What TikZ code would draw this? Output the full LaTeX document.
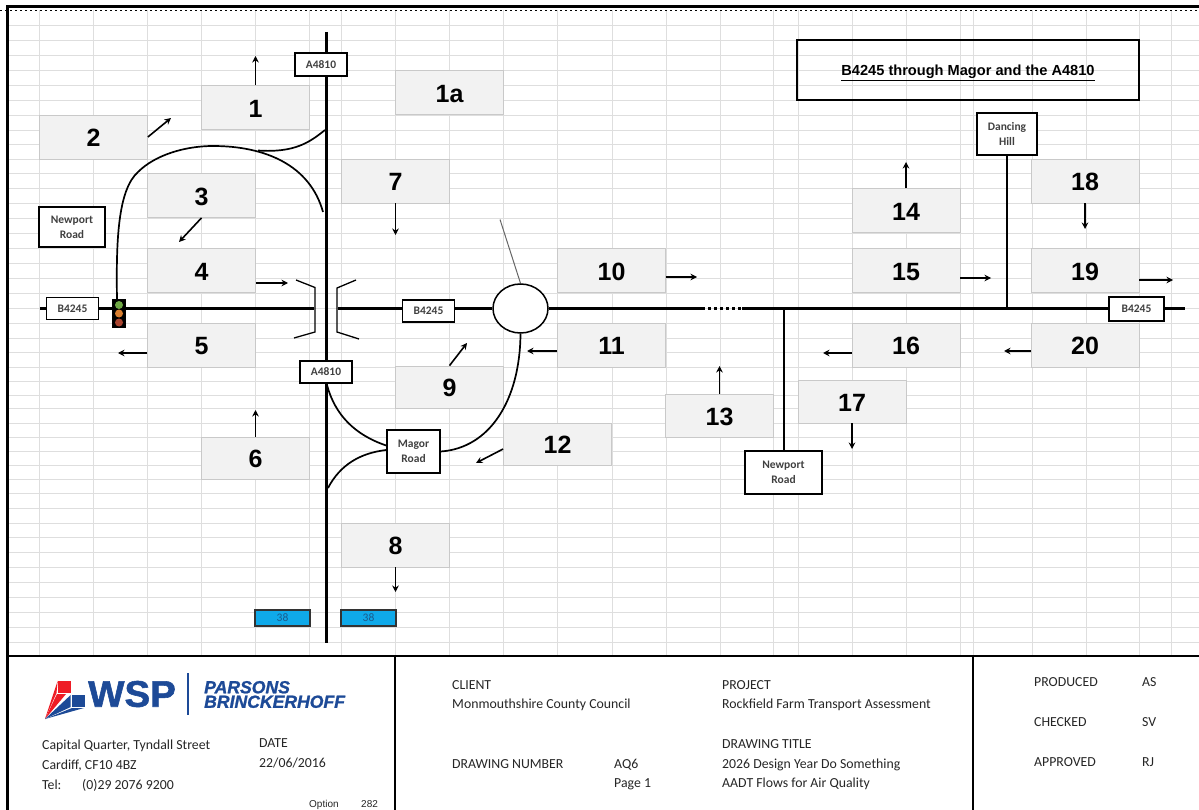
\documentclass[tikz,border=0pt]{standalone}
\usepackage{fontspec}
\setmainfont{Carlito}
\newfontfamily\arialfont{Liberation Sans}
\newfontfamily\logofont{Liberation Sans}[BoldFeatures={FakeBold=1.5,FakeStretch=1.04},BoldItalicFeatures={FakeBold=1.2}]
\usetikzlibrary{arrows.meta, positioning, shapes.geometric}
\definecolor{gridline}{HTML}{DEDEDE}
\definecolor{boxfill}{HTML}{F2F2F2}
\definecolor{boxedge}{HTML}{C9C9C9}
\definecolor{labeltext}{HTML}{404040}
\definecolor{barblue}{HTML}{0FA9E9}
\definecolor{bartext}{HTML}{1A5A8C}
\definecolor{wspblue}{HTML}{1D4A97}
\definecolor{wspred}{HTML}{EE1C25}
\definecolor{signalgreen}{HTML}{6FA845}
\definecolor{signalamber}{HTML}{D97F30}
\definecolor{signalred}{HTML}{A9442F}

\begin{document}
\begin{tikzpicture}[
    x=1pt, y=-1pt,
    flowbox/.style={draw=boxedge, fill=boxfill, line width=0.8pt,
      minimum width=108pt, minimum height=44pt, inner sep=0pt,
      text height=19.5pt, text depth=0pt,
      font=\arialfont\fontsize{25}{25}\selectfont\bfseries},
    placebox/.style={draw=black, fill=white, line width=1.5pt, inner sep=0pt,
      align=center, text=labeltext,
      font=\fontsize{11.5}{15}\selectfont\bfseries},
    roadlabel/.style={placebox, minimum width=52pt, minimum height=22pt},
    countbar/.style={draw=black!80, fill=barblue, line width=1.2pt, inner sep=0pt,
      minimum width=55pt, minimum height=16pt, text=bartext,
      font=\fontsize{11.5}{12}\selectfont},
    road/.style={line width=3pt, black},
    sideroad/.style={line width=2pt, black},
    slip/.style={line width=1.7pt, black},
    flare/.style={line width=1.3pt, black},
    flowarrow/.style={-{Stealth[length=6.5pt, width=6.5pt]}, line width=1.6pt, black},
    footnote/.style={anchor=west, inner sep=0pt, text height=10pt, text depth=2pt,
      text=black!85, font=\fontsize{13.8}{15}\selectfont},
    signallamp/.style={circle, minimum size=8pt, inner sep=0pt},
]
\useasboundingbox (0,0) rectangle (1199,810);
\fill[white] (0,0) rectangle (1199,810);
\foreach \gx in {39.5,93.5,147.5,201.5,255.5,309.5,341.5,395.5,449.5,503.5,557.5,612,666,720,773,798,852,906,960,973,1032,1086,1139,1171}
  \draw[gridline, line width=0.8pt] (\gx,10) -- (\gx,656);
\foreach \gy in {25,40,55,70,85,100,115,130,144,159,173,188,203,218,233,248,263,278,293,308,323,338,352,367,381,395,408,423,437,451,465,479,493,508,523,537,552,567,582,597,612,627,642}
  \draw[gridline, line width=0.8pt] (8,\gy) -- (1199,\gy);
\draw[black, line width=3pt] (1199,6.5) -- (7.5,6.5) -- (7.5,810);
\draw[black, line width=1pt, dash pattern=on 2pt off 3pt] (0,10.5) -- (1199,10.5);
\draw[black, line width=1.8pt] (7.5,656) -- (1199,656);
\draw[black, line width=1.5pt] (395,656) -- (395,810);
\draw[black, line width=1.5pt] (973,656) -- (973,810);

\coordinate (northend) at (326,32);
\coordinate (southend) at (326,643);
\coordinate (westend) at (40,308.5);
\coordinate (eastend) at (1185,308.5);
\coordinate (junctionwest) at (314,308.5);
\coordinate (junctioneast) at (338,308.5);
\coordinate (dotstart) at (702,308.5);
\coordinate (dotend) at (742,308.5);
\coordinate (slipnorth) at (325,130);
\coordinate (slipmerge) at (258,150.5);
\coordinate (slipwest) at (323,212);
\coordinate (slipsouth) at (327,385);
\coordinate (slipfoot) at (328,488);
\coordinate (grey) at (500,219.5);

\draw[road] (northend) -- (southend);
\draw[road] (westend) -- (junctionwest);

\node[ellipse, draw=black, fill=white, line width=1.5pt, inner sep=0pt,
    minimum width=55pt, minimum height=49pt] (roundabout) at (520.5,308.5) {};
\draw[road] (junctioneast) -- (roundabout.west);
\draw[road] (roundabout.east) -- (dotstart);
\draw[road, dash pattern=on 3pt off 3pt] (dotstart) -- (dotend);
\draw[road] (dotend) -- (eastend);
\draw[black!60, line width=1pt] (grey) -- (roundabout.north);

\node[flowbox] (box1) at (255.5,107.5) {1};
\node[flowbox] (box1a) at (449.5,92.5) {1a};
\node[flowbox] (box2) at (93.5,137) {2};
\node[flowbox] (box3) at (201.5,195.5) {3};
\node[flowbox] (box4) at (201.5,270.5) {4};
\node[flowbox] (box5) at (201.5,345) {5};
\node[flowbox, minimum height=42pt] (box6) at (255.5,458) {6};
\node[flowbox] (box7) at (395.5,181) {7};
\node[flowbox] (box8) at (395.5,545) {8};
\node[flowbox, minimum height=42pt] (box9) at (449.5,387) {9};
\node[flowbox] (box10) at (611.5,270.5) {10};
\node[flowbox] (box11) at (611.5,345) {11};
\node[flowbox, minimum height=42pt] (box12) at (557.5,444) {12};
\node[flowbox, minimum height=43pt] (box13) at (719.5,415.5) {13};
\node[flowbox] (box14) at (906,210.5) {14};
\node[flowbox] (box15) at (906,270.5) {15};
\node[flowbox] (box16) at (906,345) {16};
\node[flowbox, minimum height=43pt] (box17) at (852,401.5) {17};
\node[flowbox] (box18) at (1085,181) {18};
\node[flowbox] (box19) at (1085,270.5) {19};
\node[flowbox] (box20) at (1085,345) {20};

\node[roadlabel] (bwest) at (72.5,308.5) {B4245};
\node[roadlabel] (bmid) at (428.5,311) {B4245};
\node[roadlabel, minimum width=55pt, minimum height=24pt] (beast) at (1136.5,309) {B4245};
\node[roadlabel, minimum height=23pt] (anorth) at (321,64.5) {A4810};
\node[roadlabel] (asouth) at (326,372) {A4810};
\node[placebox, minimum width=66pt, minimum height=40pt] (newportwest) at (72,227) {Newport\\Road};
\node[placebox, minimum width=60pt, minimum height=42pt] (dancing) at (1007,134) {Dancing\\Hill};
\node[placebox, minimum width=53pt, minimum height=43pt] (magor) at (413.5,451.5) {Magor\\Road};
\node[placebox, minimum width=77pt, minimum height=43pt] (newporteast) at (783.5,472.5) {Newport\\Road};

\draw[sideroad] (dancing.south) -- (dancing.south |- eastend);
\draw[sideroad] (newporteast.north) -- (newporteast.north |- eastend);

\node[fill=black, inner sep=0pt, minimum width=14pt, minimum height=28.5pt] (signal) at (119,313.75) {};
\node[signallamp, fill=signalgreen] (lampgreen) at (119,305) {};
\node[signallamp, fill=signalamber] (lampamber) at (119,313.5) {};
\node[signallamp, fill=signalred] (lampred) at (119,322.5) {};

\draw[slip] ([xshift=-2pt]signal.north) .. controls (116,240) and (118,190) .. (138,172)
    .. controls (155,155) and (185,146) .. (213,146)
    .. controls (265,146) and (310,165) .. (slipwest);
\draw[slip] (slipmerge) .. controls (295,153) and (310,142) .. (slipnorth);
\draw[slip] (slipsouth) .. controls (335,415) and (355,435) .. ([yshift=6pt]magor.west);
\draw[slip] ([yshift=1.5pt]magor.west) .. controls (360,453) and (340,465) .. (slipfoot);
\draw[slip] (magor.east) .. controls (490,448) and (520,400) .. (roundabout.south);

\draw[flare] (296,280) -- (315,287.5) -- (315,332) -- (294,338);
\draw[flare] (356,280) -- (337,288) -- (337,332) -- (359,339);

\coordinate (tip1) at (255.5,56);
\coordinate (tip2) at (171,118);
\coordinate (tip3) at (179,242);
\coordinate (tip4) at (288,283);
\coordinate (tip5) at (118,353);
\coordinate (tip6) at (255.5,410);
\coordinate (tip7) at (395.5,235);
\coordinate (tip8) at (395.5,592);
\coordinate (tip9) at (467,343);
\coordinate (tip10) at (697,277);
\coordinate (tip11) at (527,351);
\coordinate (tip12) at (476,463);
\coordinate (tip13) at (719.5,366);
\coordinate (tip14) at (906,162);
\coordinate (tip15) at (991,278);
\coordinate (tip16) at (823,353);
\coordinate (tip17) at (852,449);
\coordinate (tip18) at (1085,229);
\coordinate (tip19) at (1173,280);
\coordinate (tip20) at (1004,351);
\draw[flowarrow] (box1.north) -- (tip1);
\draw[flowarrow] (box2.east) -- (tip2);
\draw[flowarrow] (box3.south) -- (tip3);
\draw[flowarrow] (box4.east |- tip4) -- (tip4);
\draw[flowarrow] (box5.west |- tip5) -- (tip5);
\draw[flowarrow] (box6.north) -- (tip6);
\draw[flowarrow] (box7.south) -- (tip7);
\draw[flowarrow] (box8.south) -- (tip8);
\draw[flowarrow] (box9.north) -- (tip9);
\draw[flowarrow] (box10.east |- tip10) -- (tip10);
\draw[flowarrow] (box11.west |- tip11) -- (tip11);
\draw[flowarrow] ([yshift=-5pt]box12.west) -- (tip12);
\draw[flowarrow] (box13.north) -- (tip13);
\draw[flowarrow] (box14.north) -- (tip14);
\draw[flowarrow] (box15.east |- tip15) -- (tip15);
\draw[flowarrow] (box16.west |- tip16) -- (tip16);
\draw[flowarrow] (box17.south) -- (tip17);
\draw[flowarrow] (box18.south) -- (tip18);
\draw[flowarrow] (box19.east |- tip19) -- (tip19);
\draw[flowarrow] (box20.west |- tip20) -- (tip20);

\node[countbar] (barwest) at (282.5,618) {38};
\node[countbar] (bareast) at (368.5,618) {38};

\node[draw=black, line width=1.8pt, minimum width=342pt, minimum height=60pt, inner sep=0pt,
    text height=14pt, text depth=2pt,
    font=\arialfont\fontsize{14.6}{15}\selectfont\bfseries] (title) at (968,70)
    {\underline{B4245 through Magor and the A4810}};

\fill[wspred] (57.7,680.7) rectangle (70.7,693);
\fill[wspred] (57.7,680.7) -- (45,719) -- (56.5,693) -- cycle;
\fill[wspred] (57,694) -- (66,694) -- (45,719) -- cycle;
\fill[wspblue] (71.7,695) rectangle (85,706.7);
\fill[wspblue] (70.7,695) -- (70.7,707) -- (45,719) -- cycle;
\fill[wspblue] (72,708) -- (84,708) -- (45,719) -- cycle;
\node[anchor=west, inner sep=0pt, text=wspblue, font=\logofont\fontsize{37}{37}\selectfont\bfseries] (logoname) at (88,694) {WSP};
\draw[wspblue, line width=1.2pt] (188,673) -- (188,715);
\node[anchor=west, inner sep=0pt, align=left, text=wspblue,
    font=\logofont\fontsize{17.6}{14.5}\selectfont\bfseries\itshape] (logopartner) at (204,694.5) {PARSONS\\BRINCKERHOFF};

\node[footnote] (street) at (42,745) {Capital Quarter, Tyndall Street};
\node[footnote] (city) at (42,765) {Cardiff, CF10 4BZ};
\node[footnote] (tel) at (42,785) {Tel:};
\node[footnote] (phone) at (82,785) {(0)29 2076 9200};
\node[footnote] (datehead) at (259,743) {DATE};
\node[footnote] (date) at (259,763) {22/06/2016};
\node[footnote, font=\arialfont\fontsize{10}{12}\selectfont] (option) at (309,803) {Option};
\node[footnote, font=\arialfont\fontsize{10}{12}\selectfont] (optionno) at (361,803) {282};
\node[footnote] (clienthead) at (452,685) {CLIENT};
\node[footnote] (client) at (452,704) {Monmouthshire County Council};
\node[footnote] (numberhead) at (452,764) {DRAWING NUMBER};
\node[footnote] (number) at (614,764) {AQ6};
\node[footnote] (page) at (614,783) {Page 1};
\node[footnote] (projecthead) at (722,685) {PROJECT};
\node[footnote] (project) at (722,704) {Rockfield Farm Transport Assessment};
\node[footnote] (titlehead) at (722,744) {DRAWING TITLE};
\node[footnote] (titleone) at (722,764) {2026 Design Year Do Something};
\node[footnote] (titletwo) at (722,783) {AADT Flows for Air Quality};
\node[footnote] (produced) at (1034,682) {PRODUCED};
\node[footnote] (producedby) at (1142,682) {AS};
\node[footnote] (checked) at (1034,722) {CHECKED};
\node[footnote] (checkedby) at (1142,722) {SV};
\node[footnote] (approved) at (1034,762) {APPROVED};
\node[footnote] (approvedby) at (1142,762) {RJ};
\end{tikzpicture}
\end{document}
